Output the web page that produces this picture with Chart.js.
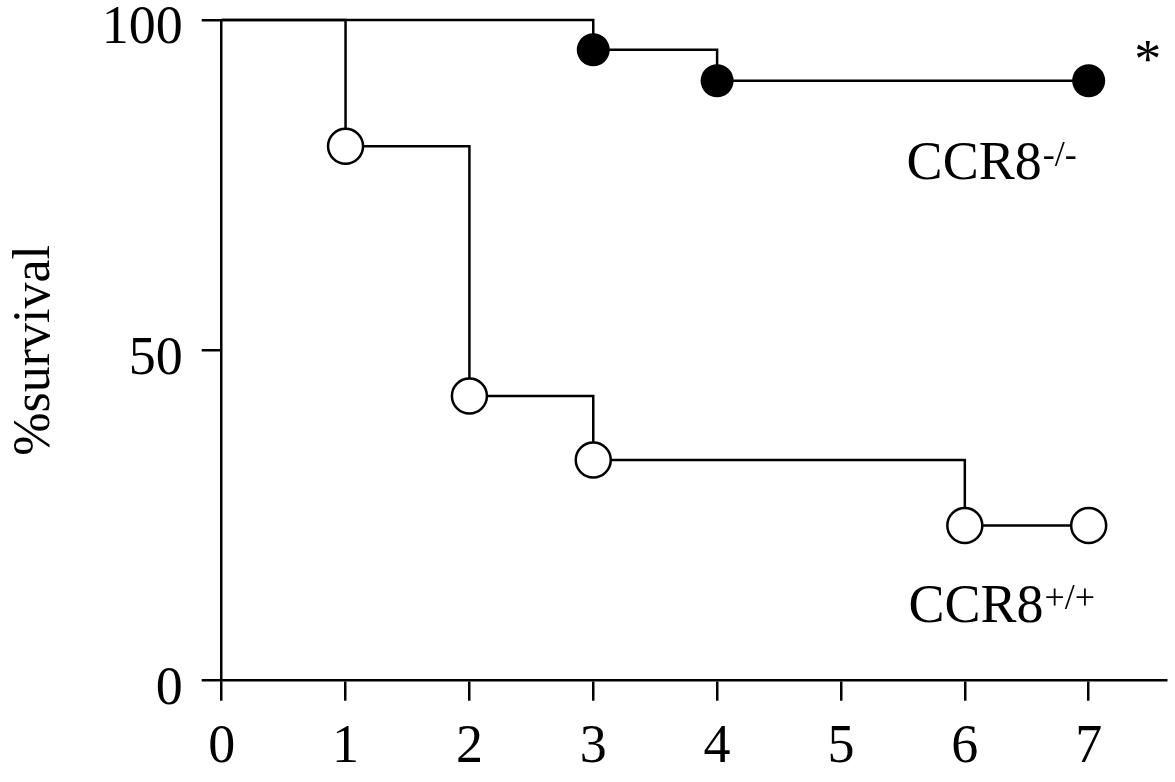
<!DOCTYPE html>
<html>
<head>
<meta charset="utf-8">
<script src="https://cdn.jsdelivr.net/npm/chart.js@4/dist/chart.umd.min.js"></script>
<style>
  html, body { margin: 0; padding: 0; background: #fff; overflow: hidden; }
  #wrap { width: 1175px; height: 782px; position: relative; }
</style>
</head>
<body>
<div id="wrap"><canvas id="c"></canvas></div>
<script>
// ---- data ----
const xTickValues = [0, 1, 2, 3, 4, 5, 6, 7];
const koDays = [0, 3, 4, 7];
const koSurvival = [100, 95.5, 90.8, 90.8];
const wtDays = [0, 1, 2, 3, 6, 7];
const wtSurvival = [100, 80.9, 43.1, 33.4, 23.5, 23.5];
const yTickValues = [0, 50, 100];
const koLabel = ['CCR8', '-/-'];
const wtLabel = ['CCR8', '+/+'];
const starLabel = '*';
const yTitle = '%survival';

const FONT = '"Liberation Serif", "Times New Roman", Times, serif';

function pts(xs, ys) { return xs.map((x, i) => ({ x: x, y: ys[i] })); }

const annotationPlugin = {
  id: 'textNotes',
  afterDatasetsDraw(chart) {
    const ctx = chart.ctx;
    const xs = chart.scales.x, ys = chart.scales.y;
    const notes = [
      { main: koLabel[0], sup: koLabel[1], x: 5.53, y: 76.0 },
      { main: wtLabel[0], sup: wtLabel[1], x: 5.545, y: 8.9 },
      { main: starLabel, sup: '', x: 7.478, y: 91.4, center: true }
    ];
    ctx.save();
    ctx.fillStyle = '#000';
    ctx.textBaseline = 'alphabetic';
    notes.forEach(n => {
      const px = xs.getPixelForValue(n.x);
      const py = ys.getPixelForValue(n.y);
      ctx.font = '54px ' + FONT;
      ctx.textAlign = n.center ? 'center' : 'left';
      ctx.fillText(n.main, px, py);
      if (n.sup) {
        const w = ctx.measureText(n.main).width;
        ctx.font = '36px ' + FONT;
        ctx.textAlign = 'left';
        ctx.fillText(n.sup, px + w + 1, py - 13);
      }
    });
    ctx.restore();
  }
};

Chart.defaults.color = '#000';
Chart.defaults.font.family = FONT;

new Chart(document.getElementById('c'), {
  type: 'line',
  data: {
    datasets: [
      {
        label: 'CCR8-/-',
        data: pts(koDays, koSurvival),
        stepped: 'before',
        borderColor: '#000',
        borderWidth: 2.5,
        borderJoinStyle: 'miter',
        pointRadius: koDays.map((d, i) => i === 0 ? 0 : 16.5),
        pointBackgroundColor: '#000',
        pointBorderColor: '#000',
        pointBorderWidth: 0,
        fill: false,
        clip: false
      },
      {
        label: 'CCR8+/+',
        data: pts(wtDays, wtSurvival),
        stepped: 'before',
        borderColor: '#000',
        borderWidth: 2.5,
        borderJoinStyle: 'miter',
        pointRadius: wtDays.map((d, i) => i === 0 ? 0 : 17.5),
        pointBackgroundColor: '#fff',
        pointBorderColor: '#000',
        pointBorderWidth: 2.5,
        fill: false,
        clip: false
      }
    ]
  },
  options: {
    responsive: true,
    maintainAspectRatio: false,
    animation: false,
    layout: { autoPadding: false, padding: { left: 0, right: 8.3, top: 20, bottom: 0 } },
    plugins: { legend: { display: false }, tooltip: { enabled: false } },
    scales: {
      x: {
        type: 'linear',
        min: 0,
        max: 7.63,
        afterBuildTicks: s => { s.ticks = xTickValues.map(v => ({ value: v })); },
        ticks: {
          stepSize: 1,
          includeBounds: false,
          autoSkip: false,
          maxRotation: 0,
          padding: 15,
          font: { size: 54, family: FONT },
          color: '#000'
        },
        grid: {
          drawOnChartArea: false,
          drawTicks: true,
          tickLength: 20,
          tickColor: '#000',
          tickWidth: 2.5,
          color: '#000',
          lineWidth: 2.5
        },
        border: { display: true, color: '#000', width: 2.5 },
        afterFit: s => { s.height = 101.3; s.paddingLeft = 0; s.paddingRight = 0; }
      },
      y: {
        type: 'linear',
        min: 0,
        max: 100,
        afterBuildTicks: s => { s.ticks = yTickValues.map(v => ({ value: v })); },
        ticks: {
          stepSize: 50,
          padding: 19,
          labelOffset: 9,
          font: { size: 54, family: FONT },
          color: '#000'
        },
        grid: {
          drawOnChartArea: false,
          drawTicks: true,
          tickLength: 20,
          tickColor: '#000',
          tickWidth: 2.5,
          color: '#000',
          lineWidth: 2.5
        },
        border: { display: true, color: '#000', width: 2.5 },
        title: {
          display: true,
          text: yTitle,
          color: '#000',
          font: { size: 52, family: FONT },
          padding: { top: 4.6, bottom: 0 }
        },
        afterFit: s => { s.width = 221.7; s.paddingTop = 0; s.paddingBottom = 0; }
      }
    }
  },
  plugins: [annotationPlugin]
});
</script>
</body>
</html>
